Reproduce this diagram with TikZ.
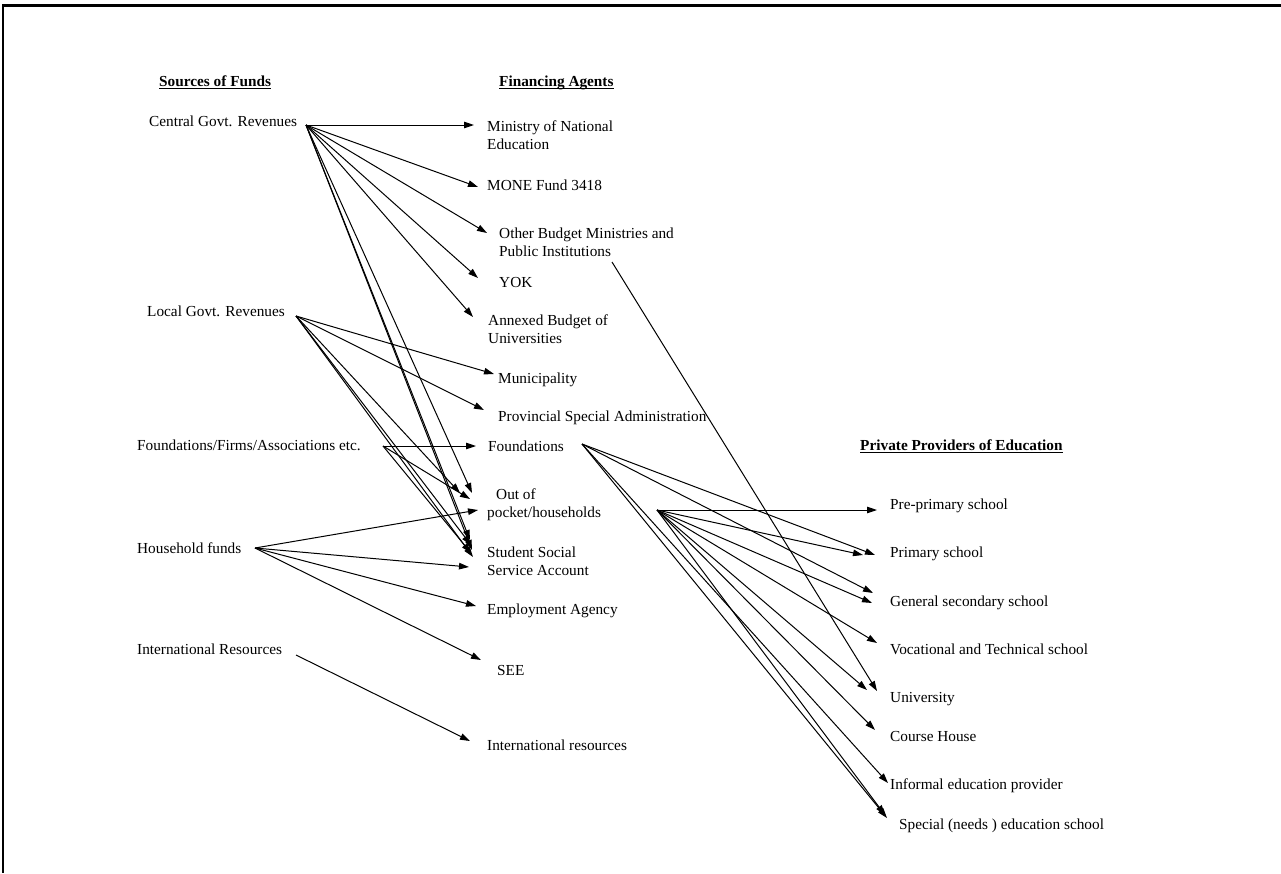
\documentclass[tikz,border=0pt]{standalone}
\usepackage{fontspec}
\setmainfont{Liberation Serif}
\usetikzlibrary{arrows.meta,calc}
\newcommand\twol[2]{\vtop{\hbox{#1}\hbox{#2}}}
\begin{document}
\begin{tikzpicture}[x=1pt,y=-1pt,
  every node/.style={inner sep=0pt,anchor=base west,font=\fontsize{15.3}{18}\selectfont},
  hdr/.style={font=\fontsize{15.3}{18}\selectfont\bfseries},
  uline/.style={line width=1pt},
  arr/.style={line width=1pt,-{Triangle[length=10pt,width=6.5pt]}}]
\useasboundingbox (0,0) rectangle (1281,873);
\fill[white] (0,0) rectangle (1281,873);
% frame
\draw[line width=3pt] (3,5) -- (1281,5);
\draw[line width=1.5pt] (3,4) -- (3,873);
% headers
\node[hdr] (sof) at (159,86) {Sources of Funds};
\node[hdr] (fah) at (499,86) {Financing Agents};
\node[hdr] (pph) at (860,450) {Private Providers of Education};
\foreach \h in {sof,fah,pph}
  \draw[uline] ($(\h.base west)+(0,2.5)$) -- ($(\h.base east)+(0,2.5)$);
% sources
\node (cgr) at (149,126) {Central Govt. Revenues};
\node (lgr) at (147,316) {Local Govt. Revenues};
\node (ffa) at (137,450) {Foundations/Firms/Associations etc.};
\node (hhf) at (137,553) {Household funds};
\node (ires) at (137,654) {International Resources};
% financing agents
\node (mne) at (487,131) {\twol{Ministry of National}{Education}};
\node (mone) at (487,190) {MONE Fund 3418};
\node (obm) at (499,238) {\twol{Other Budget Ministries and}{Public Institutions}};
\node (yok) at (499,287) {YOK};
\node (abu) at (488,325) {\twol{Annexed Budget of}{Universities}};
\node (mun) at (498,383) {Municipality};
\node (psa) at (498,421) {Provincial Special Administration};
\node (fnd) at (488,451) {Foundations};
\node (oop) at (487,499) {\twol{\kern9pt Out of}{pocket/households}};
\node (sss) at (487,557) {\twol{Student Social}{Service Account}};
\node (emp) at (487,614) {Employment Agency};
\node (see) at (497,675) {SEE};
\node (intr) at (487,750) {International resources};
% providers
\node (pre) at (890,509) {Pre-primary school};
\node (pri) at (890,557) {Primary school};
\node (gss) at (890,606) {General secondary school};
\node (voc) at (890,654) {Vocational and Technical school};
\node (uni) at (890,702) {University};
\node (crs) at (890,741) {Course House};
\node (inf) at (890,789) {Informal education provider};
\node (spe) at (899,829) {Special (needs ) education school};
% source ports
\coordinate (cgro) at ($(cgr.base west)+(157,-1)$);
\coordinate (lgro) at ($(lgr.base west)+(149,0)$);
\coordinate (ffao) at ($(ffa.base west)+(246,-4)$);
\coordinate (hhfo) at ($(hhf.base west)+(118,-5)$);
\coordinate (ireso) at ($(ires.base west)+(159,1)$);
\coordinate (obmo) at ($(obm.base west)+(113,24)$);
\coordinate (fndo) at ($(fnd.base west)+(94,-7)$);
\coordinate (oopo) at ($(oop.base west)+(170,11)$);
% central govt
\draw[arr] (cgro) -- ($(mne.base west)+(-13,-6)$);
\draw[arr] (cgro) -- ($(mone.base west)+(-9,-3)$);
\draw[arr] (cgro) -- ($(obm.base west)+(-12,-5)$);
\draw[arr] (cgro) -- ($(yok.base west)+(-21,-9)$);
\draw[arr] (cgro) -- ($(abu.base west)+(-15,-8)$);
\draw[arr] (cgro) -- ($(oop.base west)+(-15,-6)$);
\draw[arr] (cgro) -- ($(sss.base west)+(-17,-17)$);
\draw[arr] (cgro) -- ($(sss.base west)+(-15,-7)$);
% local govt
\draw[arr] (lgro) -- ($(mun.base west)+(-4,-9)$);
\draw[arr] (lgro) -- ($(psa.base west)+(-14,-11)$);
\draw[arr] (lgro) -- ($(oop.base west)+(-27,-6)$);
\draw[arr] (lgro) -- ($(sss.base west)+(-16,-12)$);
\draw[arr] (lgro) -- ($(sss.base west)+(-14,0)$);
% foundations/firms
\draw[arr] (ffao) -- ($(fnd.base west)+(-12,-5)$);
\draw[arr] (ffao) -- ($(oop.base west)+(-17,0)$);
\draw[arr] (ffao) -- ($(sss.base west)+(-16,-4)$);
% household
\draw[arr] (hhfo) -- ($(oop.base west)+(-9,11)$);
\draw[arr] (hhfo) -- ($(sss.base west)+(-18,10)$);
\draw[arr] (hhfo) -- ($(emp.base west)+(-11,-8)$);
\draw[arr] (hhfo) -- ($(see.base west)+(-16,-15)$);
% international
\draw[arr] (ireso) -- ($(intr.base west)+(-17,-9)$);
% other budget
\draw[arr] (obmo) -- ($(uni.base west)+(-13,-11)$);
% foundations (agent)
\draw[arr] (fndo) -- ($(pri.base west)+(-15,-2)$);
\draw[arr] (fndo) -- ($(gss.base west)+(-17,-13)$);
\draw[arr] (fndo) -- ($(inf.base west)+(-2,-6)$);
\draw[arr] (fndo) -- ($(spe.base west)+(-12,-11)$);
% out of pocket
\draw[arr] (oopo) -- ($(pre.base west)+(-13,1)$);
\draw[arr] (oopo) -- ($(pri.base west)+(-27,-2)$);
\draw[arr] (oopo) -- ($(gss.base west)+(-18,-3)$);
\draw[arr] (oopo) -- ($(voc.base west)+(-13,-11)$);
\draw[arr] (oopo) -- ($(uni.base west)+(-23,-12)$);
\draw[arr] (oopo) -- ($(crs.base west)+(-15,-11)$);
\draw[arr] (oopo) -- ($(spe.base west)+(-14,-14)$);
\end{tikzpicture}
\end{document}
